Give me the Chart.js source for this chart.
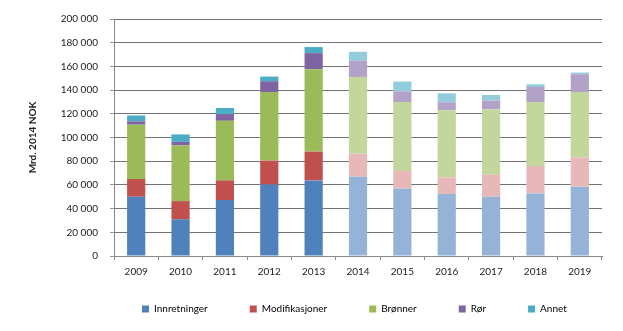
<!DOCTYPE html>
<html>
<head>
<meta charset="utf-8">
<script src="https://cdn.jsdelivr.net/npm/chart.js@4/dist/chart.umd.min.js"></script>
<style>
  html, body { margin: 0; padding: 0; background: #fff; }
  #wrap { width: 623px; height: 331px; position: relative; }
</style>
</head>
<body>
<div id="wrap"><canvas id="c"></canvas></div>
<script>
// Investeringer per år, stablet etter kategori (2014 og senere er prognose)
const years = ['2009', '2010', '2011', '2012', '2013', '2014', '2015', '2016', '2017', '2018', '2019'];
const innretninger   = [50000, 31000, 47200, 60400, 63800, 66900, 57000, 52300, 50000, 52800, 58500];
const modifikasjoner = [15000, 15300, 16600, 20100, 24300, 19300, 14800, 14100, 18600, 23200, 24600];
const bronner        = [45800, 47000, 50300, 57900, 69500, 64900, 58100, 56700, 55100, 53700, 55300];
const ror            = [2800, 3000, 5700, 9100, 13600, 13600, 9100, 6600, 7400, 12900, 15000];
const annet          = [5000, 6300, 5100, 3900, 5100, 7600, 8200, 7600, 4800, 2300, 1400];
const yTicks = [0, 20000, 40000, 60000, 80000, 100000, 120000, 140000, 160000, 180000, 200000];
const firstForecast = '2014';

const FONT = 'Lato, "Open Sans", sans-serif';

function shade(dark, light) {
  const start = years.indexOf(firstForecast);
  return years.map((y, i) => (i >= start ? light : dark));
}

const series = [
  { label: 'Innretninger',   data: innretninger,   dark: '#4F81BD', light: '#95B3D7' },
  { label: 'Modifikasjoner', data: modifikasjoner, dark: '#C0504D', light: '#E6B9B8' },
  { label: 'Brønner',        data: bronner,        dark: '#9BBB59', light: '#C3D69B' },
  { label: 'Rør',            data: ror,            dark: '#8064A2', light: '#B3A2C7' },
  { label: 'Annet',          data: annet,          dark: '#4BACC6', light: '#93CDDD' }
];

function fmt(v) {
  return String(v).replace(/\B(?=(\d{3})+(?!\d))/g, ' ');
}

// places the legend row: first item starts at x=142, row centred near y=309
const legendPlace = {
  id: 'legendPlace',
  afterLayout(chart) {
    const lg = chart.legend;
    const pad = lg.options.labels.padding;
    const lw = lg.lineWidths ? lg.lineWidths[0] : 0;
    const start = (lg.left + pad + lg.right - lw) / 2;
    const dx = 142 - start;
    lg.left += dx;
    lg.right += dx;
    const dy = 262 - lg.top;
    lg.top += dy;
    lg.bottom += dy;
  }
};

new Chart(document.getElementById('c'), {
  type: 'bar',
  data: {
    labels: years,
    datasets: series.map(s => ({
      label: s.label,
      data: s.data,
      backgroundColor: shade(s.dark, s.light),
      borderWidth: 0,
      barPercentage: 0.41,
      categoryPercentage: 1
    }))
  },
  options: {
    responsive: true,
    maintainAspectRatio: false,
    animation: false,
    layout: { padding: { top: 19, right: 21, bottom: -17, left: 0 } },
    plugins: {
      tooltip: { enabled: false },
      legend: {
        position: 'bottom',
        labels: {
          boxWidth: 7,
          boxHeight: 7,
          padding: 42,
          color: '#222',
          font: { family: FONT, size: 10 },
          generateLabels: () => series.map((s, i) => ({
            text: s.label,
            fillStyle: s.dark,
            strokeStyle: s.dark,
            lineWidth: 0,
            hidden: false,
            datasetIndex: i
          }))
        }
      }
    },
    scales: {
      x: {
        stacked: true,
        offset: true,
        afterFit: (s) => { s.height = 30; },
        grid: {
          offset: true,
          drawOnChartArea: false,
          drawTicks: true,
          tickLength: 4,
          color: '#888'
        },
        border: { color: '#888', width: 1 },
        ticks: {
          color: '#222',
          padding: 6,
          font: { family: FONT, size: 10 }
        }
      },
      y: {
        stacked: true,
        min: 0,
        max: 200000,
        afterBuildTicks: (s) => { s.ticks = yTicks.map(v => ({ value: v })); },
        afterFit: (s) => { s.width = 114; },
        grid: {
          color: '#737373',
          lineWidth: 1,
          drawTicks: true,
          tickLength: 4,
          tickColor: '#999'
        },
        border: { color: '#888', width: 1 },
        ticks: {
          color: '#222',
          padding: 12,
          font: { family: FONT, size: 10 },
          callback: (v) => fmt(v)
        },
        title: {
          display: true,
          text: 'Mrd. 2014 NOK',
          color: '#222',
          padding: { top: 27, bottom: 0 },
          font: { family: FONT, size: 10, weight: 'bold' }
        }
      }
    }
  },
  plugins: [legendPlace]
});
</script>
</body>
</html>
